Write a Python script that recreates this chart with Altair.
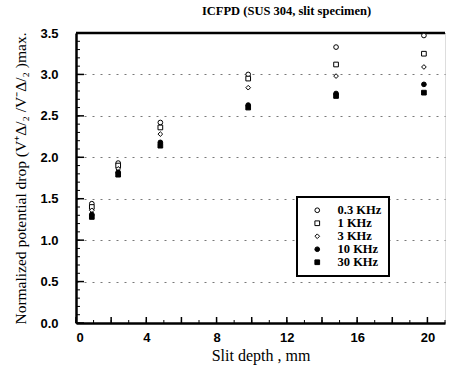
import altair as alt
import pandas as pd

# ---- data ----
depth = [0.9, 2.4, 4.8, 9.8, 14.8, 19.8]
freqs = ["0.3 KHz", "1 KHz", "3 KHz", "10 KHz", "30 KHz"]
v_03 = [1.44, 1.93, 2.42, 3.00, 3.33, 3.47]
v_1 = [1.40, 1.90, 2.36, 2.95, 3.12, 3.25]
v_3 = [1.36, 1.86, 2.28, 2.84, 2.98, 3.09]
v_10 = [1.31, 1.82, 2.18, 2.63, 2.77, 2.88]
v_30 = [1.28, 1.79, 2.14, 2.60, 2.74, 2.78]

y_major = [0.0, 0.5, 1.0, 1.5, 2.0, 2.5, 3.0, 3.5]
y_minor = [round(i * 0.1, 1) for i in range(36)]
x_major = [0, 2, 4, 6, 8, 10, 12, 14, 16, 18, 20]
x_minor = list(range(0, 22))
x_labels = [0, 4, 8, 12, 16, 20]

series = [v_03, v_1, v_3, v_10, v_30]
rows = []
for f, vals in zip(freqs, series):
    for d, v in zip(depth, vals):
        rows.append({"depth": d, "value": v, "freq": f})
df = pd.DataFrame(rows)

W, H = 369, 290
xs = alt.Scale(domain=[0, 21], nice=False, zero=False)
ys = alt.Scale(domain=[0, 3.5], nice=False)

serif = "Liberation Serif"
sans = "Liberation Sans"

points = alt.Chart(df).mark_point(
    filled=True, stroke="black", strokeWidth=1, opacity=1, size=22
).encode(
    x=alt.X("depth:Q", scale=xs,
            axis=alt.Axis(values=x_labels, title="Slit depth , mm", ticks=False,
                          grid=False, domainWidth=2.5, domainColor="black",
                          labelFont=sans, labelFontWeight="bold", labelFontSize=13,
                          labelPadding=8, labelColor="black",
                          titleFont=serif, titleFontSize=16, titleFontWeight="normal",
                          titlePadding=3, titleColor="black")),
    y=alt.Y("value:Q", scale=ys,
            axis=alt.Axis(values=y_major, format=".1f",
                          title="Normalized potential drop (V⁺Δ/₂ /V⁻Δ/₂ )max.",
                          ticks=False, grid=True, gridDash=[2, 6], gridColor="#555",
                          gridWidth=0.8, domainWidth=2.5, domainColor="black",
                          labelFont=sans, labelFontWeight="bold", labelFontSize=13,
                          labelPadding=18, labelColor="black",
                          titleFont=serif, titleFontSize=15.5, titleFontWeight="normal",
                          titlePadding=11, titleColor="black")),
    shape=alt.Shape("freq:N", sort=freqs, title=None,
                    scale=alt.Scale(domain=freqs,
                                    range=["circle", "square", "diamond", "circle", "square"])),
    fill=alt.Fill("freq:N", sort=freqs, title=None,
                  scale=alt.Scale(domain=freqs,
                                  range=["white", "white", "white", "black", "black"]),
                  legend=alt.Legend(orient="none", legendX=221, legendY=164,
                                    strokeColor="black",
                                    fillColor="white", padding=7,
                                    labelFont=serif, labelFontSize=12.5,
                                    labelFontWeight="bold", labelColor="black",
                                    symbolStrokeColor="black", symbolStrokeWidth=1,
                                    symbolSize=22, rowPadding=0, labelOffset=14,
                                    symbolOffset=7, labelLimit=200)),
)

top_rule = alt.Chart(pd.DataFrame({"y": [3.5]})).mark_rule(
    color="black", strokeWidth=2.5
).encode(y=alt.Y("y:Q", scale=ys))

ytick_minor = alt.Chart(pd.DataFrame({"y": y_minor})).mark_rule(
    color="black", strokeWidth=1
).encode(y=alt.Y("y:Q", scale=ys), x=alt.value(0), x2=alt.value(4))

ytick_major = alt.Chart(pd.DataFrame({"y": y_major})).mark_rule(
    color="black", strokeWidth=1.5
).encode(y=alt.Y("y:Q", scale=ys), x=alt.value(0), x2=alt.value(8))

xtick_minor = alt.Chart(pd.DataFrame({"x": x_minor})).mark_rule(
    color="black", strokeWidth=1
).encode(x=alt.X("x:Q", scale=xs), y=alt.value(H), y2=alt.value(H - 3))

xtick_major = alt.Chart(pd.DataFrame({"x": x_major})).mark_rule(
    color="black", strokeWidth=1.5
).encode(x=alt.X("x:Q", scale=xs), y=alt.value(H), y2=alt.value(H - 6))

chart = alt.layer(
    top_rule, ytick_minor, ytick_major, xtick_minor, xtick_major, points
).properties(
    width=W, height=H,
    title=alt.TitleParams("ICFPD (SUS 304, slit specimen)", font=serif,
                          fontSize=12.5, fontWeight="bold", color="black",
                          anchor="middle", dx=26, offset=10),
    padding={"left": 76, "top": 33, "right": 10, "bottom": 51},
    autosize=alt.AutoSizeParams(type="none"),
).configure_view(stroke=None).configure(background="white").configure_legend(strokeWidth=2)

chart.save("out.html", embed_options={"renderer": "svg", "actions": False})
